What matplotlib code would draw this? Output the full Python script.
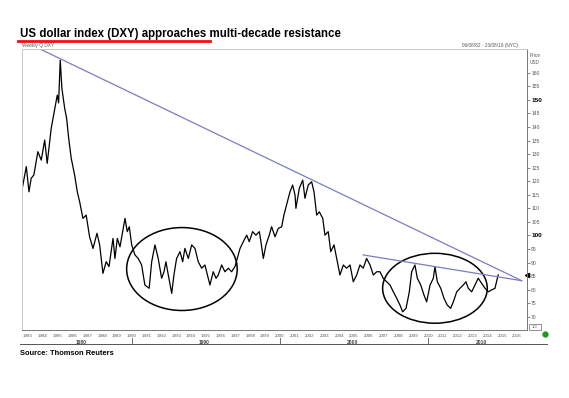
"""
US dollar index (DXY) weekly chart with multi-decade resistance lines.
"""

import matplotlib.pyplot as plt
from matplotlib.patches import Ellipse, Rectangle
from matplotlib.lines import Line2D

plt.rcParams["font.family"] = ["Liberation Sans", "DejaVu Sans"]

TITLE = "US dollar index (DXY) approaches multi-decade resistance"
SOURCE = "Source: Thomson Reuters"

# approximate DXY path (decimal year, index level)
years = [
    1982.64, 1982.89, 1983.07, 1983.22, 1983.40, 1983.67, 1983.90, 1984.13,
    1984.30, 1984.57, 1984.80, 1984.98, 1985.07, 1985.18, 1985.29, 1985.48,
    1985.61, 1985.75, 1985.92, 1986.15, 1986.33, 1986.49, 1986.71, 1986.93,
    1987.16, 1987.39, 1987.66, 1987.84, 1988.06, 1988.28, 1988.47, 1988.74,
    1988.87, 1989.03, 1989.21, 1989.43, 1989.55, 1989.70, 1989.84, 1990.00,
    1990.22, 1990.44, 1990.67, 1990.89, 1991.18, 1991.35, 1991.57, 1991.79,
    1992.02, 1992.18, 1992.31, 1992.47, 1992.70, 1992.85, 1993.03, 1993.26,
    1993.44, 1993.59, 1993.82, 1994.05, 1994.27, 1994.49, 1994.72, 1994.94,
    1995.17, 1995.28, 1995.50, 1995.69, 1995.84, 1996.07, 1996.29, 1996.52,
    1996.74, 1996.97, 1997.12, 1997.31, 1997.53, 1997.76, 1997.93, 1998.16,
    1998.38, 1998.61, 1998.72, 1998.88, 1999.06, 1999.28, 1999.44, 1999.67,
    1999.89, 2000.12, 2000.27, 2000.50, 2000.68, 2000.86, 2001.02, 2001.08,
    2001.31, 2001.54, 2001.69, 2001.91, 2002.14, 2002.30, 2002.48, 2002.66,
    2002.89, 2003.04, 2003.26, 2003.43, 2003.65, 2003.83, 2004.05, 2004.28,
    2004.50, 2004.73, 2004.95, 2005.18, 2005.40, 2005.62, 2005.85, 2006.08,
    2006.30, 2006.53, 2006.75, 2006.97, 2007.20, 2007.43, 2007.65, 2007.88,
    2008.10, 2008.28, 2008.51, 2008.73, 2008.89, 2009.11, 2009.27, 2009.50,
    2009.72, 2009.90, 2010.13, 2010.35, 2010.46, 2010.62, 2010.85, 2011.07,
    2011.29, 2011.52, 2011.70, 2011.93, 2012.15, 2012.37, 2012.55, 2012.71,
    2012.94, 2013.16, 2013.38, 2013.61, 2013.84, 2014.06, 2014.29, 2014.51,
    2014.67, 2014.73,
]
dxy = [
    118.0, 125.4, 116.1, 121.1, 122.3, 130.9, 127.8, 135.2,
    126.6, 139.5, 146.3, 151.8, 148.9, 164.7, 154.3, 146.9,
    143.2, 135.8, 128.5, 122.3, 116.1, 112.4, 106.3, 107.5,
    99.5, 95.2, 100.8, 96.5, 86.0, 90.3, 88.5, 98.9,
    91.5, 98.9, 95.8, 102.6, 106.3, 101.4, 103.2, 96.5,
    92.8, 91.5, 89.1, 81.7, 80.5, 90.3, 96.5, 91.5,
    84.2, 86.6, 90.3, 85.4, 78.6, 85.4, 91.5, 94.0,
    90.3, 95.2, 91.5, 96.5, 95.2, 90.3, 87.9, 89.1,
    84.2, 81.7, 86.6, 84.2, 85.4, 89.1, 86.6, 87.9,
    86.6, 88.5, 91.5, 95.2, 97.7, 100.1, 97.7, 101.4,
    100.1, 101.4, 97.7, 91.5, 96.5, 100.1, 103.2, 99.5,
    102.6, 103.2, 107.5, 112.4, 116.1, 118.6, 114.9, 110.0,
    117.4, 120.4, 113.7, 118.6, 119.8, 116.1, 107.5, 108.7,
    106.3, 100.1, 101.4, 94.0, 96.5, 91.5, 85.4, 89.1,
    87.9, 89.1, 82.9, 85.4, 89.1, 87.9, 91.5, 89.1,
    85.4, 86.6, 86.6, 84.2, 82.9, 81.7, 79.2, 76.8,
    74.3, 71.8, 73.1, 79.2, 86.6, 89.1, 84.2, 81.7,
    78.0, 75.5, 81.7, 84.2, 88.5, 82.9, 80.5, 76.8,
    74.3, 73.1, 75.5, 79.2, 80.5, 81.7, 82.9, 80.5,
    79.2, 81.7, 84.2, 82.3, 80.5, 79.2, 79.9, 80.5,
    84.2, 85.4,
]

# resistance lines (start, end) in (year, level)
long_line_x = [1983.81, 2016.31]
long_line_y = [168.8, 83.3]
short_line_x = [2005.62, 2016.31]
short_line_y = [92.8, 83.3]

year_ticks = list(range(1983, 2017))
price_ticks = list(range(70, 165, 5))
decade_labels = ["1980", "1990", "2000", "2010"]
decade_label_pos = [1986.6, 1994.9, 2004.9, 2013.6]
decade_breaks = [1990, 2000, 2010]

fig = plt.figure(figsize=(5.69, 3.98), dpi=100)
W, H = 569, 398
ax = fig.add_axes([22 / W, 1 - 330 / H, (527 - 22) / W, (330 - 49) / H])

ax.plot(years, dxy, color="black", lw=0.9)
ax.plot(long_line_x, long_line_y, color="#7b7bc4", lw=0.9)
ax.plot(short_line_x, short_line_y, color="#7b7bc4", lw=0.9)

ax.add_patch(Ellipse((1993.39, 87.6), 7.46, 30.6, fill=False, ec="black", lw=1.1, clip_on=False))
ax.add_patch(Ellipse((2010.46, 80.5), 7.06, 25.8, fill=False, ec="black", lw=1.1, clip_on=False))

ax.set_xlim(1982.6, 2016.67)
ax.set_ylim(65.1, 168.8)

ax.yaxis.tick_right()
ax.set_yticks(price_ticks)
ax.set_yticklabels([str(v) for v in price_ticks])
ax.tick_params(axis="y", labelsize=3.6, length=2, width=0.5, pad=1, colors="#555555")
for lab in ax.get_yticklabels():
    if lab.get_text() in ("100", "150"):
        lab.set_fontsize(4.6)
        lab.set_fontweight("bold")
        lab.set_color("black")

ax.set_xticks(year_ticks)
ax.set_xticklabels([str(y) for y in year_ticks])
ax.tick_params(axis="x", labelsize=3.2, length=0, pad=3, colors="#555555")

for side in ("left", "top"):
    ax.spines[side].set_color("#c8c8c8")
ax.spines["right"].set_color("#777777")
ax.spines["bottom"].set_color("#777777")
for s in ax.spines.values():
    s.set_linewidth(0.7)

# decade band under the year labels
for lab, pos in zip(decade_labels, decade_label_pos):
    ax.text(pos, -0.035, lab, transform=ax.get_xaxis_transform(), ha="center", va="top",
            fontsize=3.6, fontweight="bold", color="#444444")
fig.add_artist(Line2D([20 / W, 547 / W], [1 - 344 / H] * 2, color="#555555", lw=0.7))
for b in decade_breaks:
    xf = (ax.transData.transform((b, 0))[0]) / W
    fig.add_artist(Line2D([xf, xf], [1 - 344 / H, 1 - 338 / H], color="#555555", lw=0.6))

# header texts
fig.text(20 / W, 1 - 37 / H, TITLE, fontsize=8.3, fontweight="bold", va="baseline")
fig.add_artist(Line2D([18 / W, 210 / W], [1 - 41 / H] * 2, color="#ee1111", lw=2.0))
fig.text(22 / W, 1 - 47 / H, "Weekly Q DXY", fontsize=3.4, color="#555555", va="baseline")
fig.text(518 / W, 1 - 47 / H, "06/08/82 - 23/08/16 (NYC)", fontsize=3.4, color="#555555",
         va="baseline", ha="right")
fig.text(530 / W, 1 - 53 / H, "Price\nUSD", fontsize=3.4, color="#555555", va="top",
         linespacing=1.4)

# last value marker and small widgets
ax.plot([2016.67], [dxy[-1]], marker="<", ms=3, color="black", clip_on=False)
fig.add_artist(Rectangle((529 / W, 1 - 330 / H), 12 / W, 6 / H, fill=False, ec="#666666", lw=0.5))
fig.text(535 / W, 1 - 327 / H, "1/3", fontsize=3, ha="center", va="center", color="#555555")
fig.add_artist(Line2D([545 / W], [1 - 334 / H], marker="o", ms=3.5, color="#1a9a1a"))

fig.text(20 / W, 1 - 355 / H, SOURCE, fontsize=5.4, fontweight="bold", va="baseline")

plt.savefig("out.png", dpi=100)
plt.close()
